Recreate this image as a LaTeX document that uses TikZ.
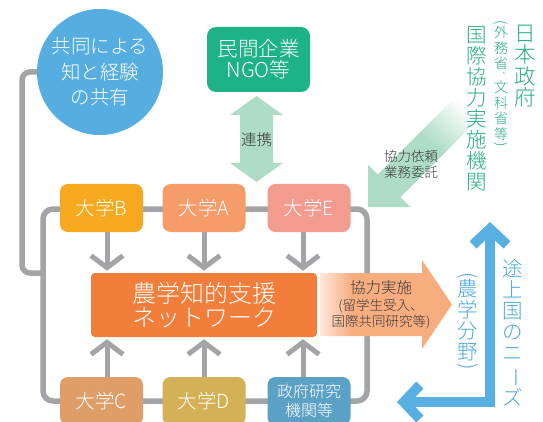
\documentclass[tikz,border=0pt]{standalone}
\usepackage{fontspec}
\setmainfont{Noto Sans CJK JP}[UprightFont=* Light]
\usepackage{graphicx}
\usetikzlibrary{arrows.meta,backgrounds}
\definecolor{cblue}{HTML}{56AEE0}
\definecolor{ngo}{HTML}{1EB386}
\definecolor{lgreen}{HTML}{AEDCC7}
\definecolor{tgreen}{HTML}{26AC84}
\definecolor{uB}{HTML}{F6A91E}
\definecolor{uA}{HTML}{F69C6B}
\definecolor{uE}{HTML}{F49B8F}
\definecolor{netc}{HTML}{F27E3B}
\definecolor{uC}{HTML}{DF9D67}
\definecolor{uD}{HTML}{D4B156}
\definecolor{gov}{HTML}{5BA1C5}
\definecolor{glinec}{HTML}{A3A3A8}
\definecolor{oarr}{HTML}{F8AD7F}
\definecolor{opale}{HTML}{FDE8DA}
\definecolor{bblue}{HTML}{58AFE2}
\definecolor{tblue}{HTML}{4AA8DE}
\definecolor{dtext}{HTML}{3A3A3A}
\pgfdeclarehorizontalshading{ofade}{100bp}{color(0bp)=(opale); color(25bp)=(opale); color(37bp)=(oarr); color(100bp)=(oarr)}
\pgfdeclarehorizontalshading{gfade}{100bp}{color(0bp)=(lgreen); color(57bp)=(lgreen); color(75bp)=(white); color(100bp)=(white)}
\newcommand{\vparen}[1]{\rotatebox[origin=c]{-90}{#1}}
\begin{document}
\begin{tikzpicture}[x=1pt,y=-1pt,
  gline/.style={draw=glinec, line width=5.5pt},
  garr/.style={draw=glinec, line width=5pt, -{Straight Barb[length=12pt,width=32pt]}, shorten >=2pt},
  barr/.style={draw=bblue, line width=10pt, {Straight Barb[length=16pt,width=34pt]}-{Straight Barb[length=16pt,width=34pt]}},
  ubox/.style={rounded corners=8pt, minimum width=83pt, minimum height=48pt, inner sep=0pt, text=white, font=\fontsize{19.5}{22}\selectfont},
  lbl/.style={text=dtext, align=center, inner sep=0pt}]
\useasboundingbox (0,0) rectangle (543,422);
\clip (0,0) rectangle (543,422);

% nodes
\node[circle, fill=cblue, minimum size=126pt, inner sep=0pt, text=white, align=center,
  font=\fontsize{19.5}{25.5}\selectfont] (share) at (100,72) {共同による\\知と経験\\の共有};
\node[fill=ngo, rounded corners=9pt, minimum width=103pt, minimum height=65pt, inner sep=0pt,
  text=white, align=center, font=\fontsize{20.5}{21}\selectfont] (ngo) at (258.5,59.5) {民間企業\\NGO等};

\node[ubox, fill=uB] (B) at (101.5,208) {大学B};
\node[ubox, fill=uA] (A) at (204,208) {大学A};
\node[ubox, fill=uE] (E) at (309,208) {大学E};
\node[ubox, fill=uC] (C) at (101.5,401) {大学C};
\node[ubox, fill=uD] (D) at (204,401) {大学D};
\node[ubox, fill=gov, align=center, font=\fontsize{16}{19}\selectfont] (G) at (309,401) {政府研究\\機関等};
\node[fill=netc, rounded corners=4pt, minimum width=226pt, minimum height=64pt, inner sep=0pt,
  text=white, align=center, font=\fontsize{24}{24}\selectfont] (net) at (204,305) {農学知的支援\\ネットワーク};

% gray loops behind
\begin{scope}[on background layer]
  \draw[gline, rounded corners=10pt] (43,209) rectangle (367,401);
  \draw[gline, rounded corners=8pt] (share.west) -- (22,72) -- (22,273) -- (43,273);
\end{scope}

% gray arrows
\coordinate (k1) at (107,0);
\coordinate (k2) at (204,0);
\coordinate (k3) at (303,0);
\foreach \u/\k in {B/k1,A/k2,E/k3} \draw[garr] (\u.south -| \k) -- (net.north -| \k);
\foreach \u/\k in {C/k1,D/k2,G/k3} \draw[garr] (\u.north -| \k) -- (net.south -| \k);

% double arrow (renkei)
\fill[lgreen] (256.5,96) -- (283,115) -- (273,115) -- (273,163) -- (283,163) -- (256.5,182)
  -- (230,163) -- (240,163) -- (240,115) -- (230,115) -- cycle;
\node[lbl, font=\fontsize{15.5}{15}\selectfont] (renkei) at (256.5,140) {連携};

% orange arrow
\shade[shading=ofade] (320,273) -- (422,273) -- (422,260) -- (452,304.5) -- (422,349)
  -- (422,336) -- (320,336) -- cycle;
\node[lbl, font=\fontsize{13.5}{16.5}\selectfont] (coop) at (381,305)
  {{\fontsize{15.5}{17}\selectfont 協力実施}\\(留学生受入、\\国際共同研究等)};

% diagonal green arrow
\begin{scope}[transform canvas={shift={(368,207)}, rotate=45}]
  \shade[shading=gfade] (0,0) -- (30,30) -- (30,16) -- (140,16) -- (140,-16) -- (30,-16) -- (30,-30) -- cycle;
\end{scope}
\node[lbl, font=\fontsize{13.5}{16}\selectfont] (req) at (411,164) {協力依頼\\業務委託};

% blue L arrow
\coordinate (bt) at (490,222);
\coordinate (bc) at (490,402);
\coordinate (bl) at (397,402);
\draw[barr] (bt) -- (bc) -- (bl);

% vertical texts
\node[text=tgreen, align=center, inner sep=0pt, font=\fontsize{21.5}{21.5}\selectfont] (jp) at (525,66) {日\\本\\政\\府};
\node[text=tgreen, align=center, inner sep=0pt, font=\fontsize{14}{15.5}\selectfont] (mofa) at (501,85)
  {\vparen{(}\\[-5pt]外\\務\\省\\[-5pt]{\fontsize{9}{9}\selectfont ︑}\\[-2pt]文\\科\\省\\等\\[-5pt]\vparen{)}};
\node[text=tgreen, align=center, inner sep=0pt, font=\fontsize{20.5}{21}\selectfont] (jica) at (477,109) {国\\際\\協\\力\\実\\施\\機\\関};
\node[text=tblue, align=center, inner sep=0pt, font=\fontsize{20.5}{21}\selectfont] (need) at (513,333)
  {途\\上\\国\\の\\ニ\\\vparen{ー}\\ズ};
\node[text=tblue, align=center, inner sep=0pt, font=\fontsize{20.5}{21}\selectfont] (agri) at (468,323)
  {\vparen{(}\\[-7pt]農\\学\\分\\野\\[-7pt]\vparen{)}};
\end{tikzpicture}
\end{document}
